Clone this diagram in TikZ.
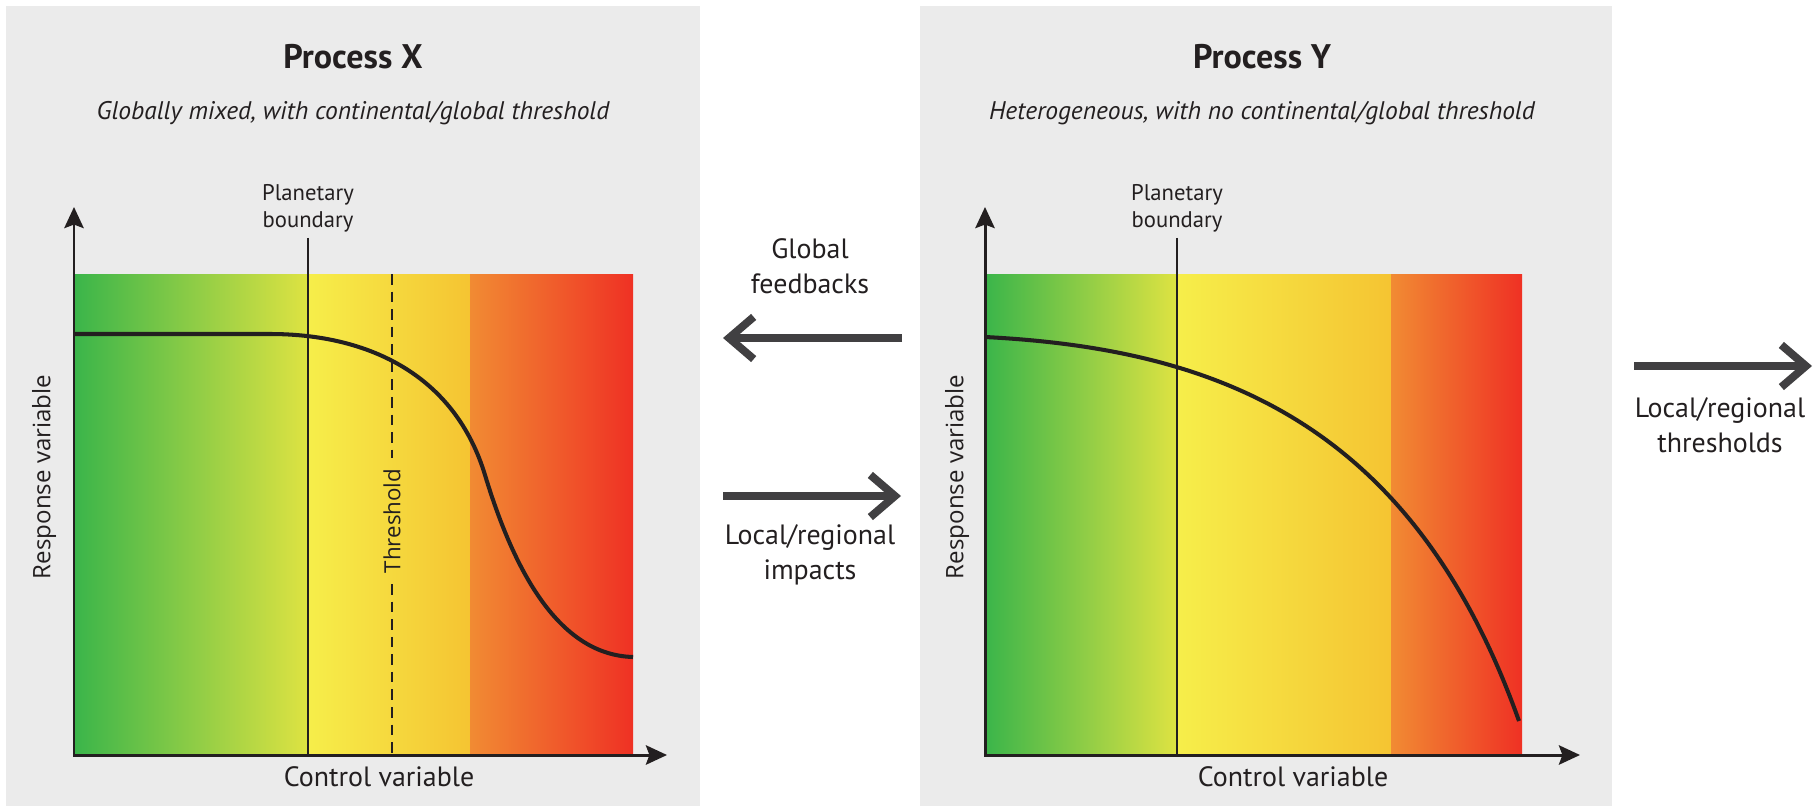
\documentclass[tikz,border=0pt]{standalone}
\usepackage{fontspec}
\setmainfont{PT Sans}
\newfontfamily\widefont{Open Sans}
\usetikzlibrary{arrows.meta}
\definecolor{ink}{HTML}{231F20}
\definecolor{panelgray}{HTML}{EBEBEB}
\definecolor{arrowgray}{HTML}{414042}
\definecolor{gA}{HTML}{3AB54A}
\definecolor{gM}{HTML}{84C944}
\definecolor{gB}{HTML}{DFE342}
\definecolor{yA}{HTML}{F6EE4A}
\definecolor{yM}{HTML}{F5E043}
\definecolor{yB}{HTML}{F5C432}
\definecolor{rA}{HTML}{F18B33}
\definecolor{rM}{HTML}{F2612B}
\definecolor{rB}{HTML}{EF3124}
\begin{document}
\begin{tikzpicture}
    [x=0.02cm,y=-0.02cm,
     heading/.style={font=\bfseries\fontsize{19.4}{23}\selectfont,text=ink},
     subtitle/.style={font=\itshape\fontsize{14.5}{17}\selectfont,text=ink},
     flowtext/.style={font=\fontsize{15.9}{19.8}\selectfont,text=ink,align=center},
     pbtext/.style={font=\fontsize{12.9}{15.3}\selectfont,text=ink,align=center},
     axislabel/.style={font=\widefont\fontsize{13.7}{16}\selectfont,text=ink,rotate=90},
     axes/.style={line width=1.7pt,draw=ink,{Stealth[length=12pt,width=11pt,inset=2pt]}-{Stealth[length=12pt,width=11pt,inset=2pt]}},
     pbline/.style={line width=0.8pt,draw=ink},
     response/.style={line width=2.3pt,draw=ink},
     flow/.style={line width=4.5pt,draw=arrowgray,-{Straight Barb[length=14pt,width=24pt]}}]
\useasboundingbox (0,0) rectangle (1815,808);
\fill [panelgray] (6,6) rectangle (700,806);
\fill [panelgray] (920,6) rectangle (1612,806);
\shade [left color=gA,middle color=gM,right color=gB] (74,274) rectangle (309,755);
\shade [left color=yA,middle color=yM,right color=yB] (309,274) rectangle (470,755);
\shade [left color=rA,middle color=rM,right color=rB] (470,274) rectangle (633,755);
\shade [left color=gA,middle color=gM,right color=gB] (985,274) rectangle (1178,755);
\shade [left color=yA,middle color=yM,right color=yB] (1178,274) rectangle (1391,755);
\shade [left color=rA,middle color=rM,right color=rB] (1391,274) rectangle (1522,755);
\path
    (353,57) node [heading] (titleX) {Process X}
    (353,113) node [subtitle] (subX) {Globally mixed, with continental/global threshold}
    (308,208) node [pbtext] (pbX) {Planetary\\boundary}
    (44,477) node [axislabel] (respX) {Response variable}
    (379,777) node [flowtext] (ctrlX) {Control variable}
    (392,521) node [axislabel,font=\widefont\fontsize{12.7}{15}\selectfont,inner xsep=6pt] (thr) {Threshold}
    (1262,57) node [heading] (titleY) {Process Y}
    (1262,113) node [subtitle] (subY) {Heterogeneous, with no continental/global threshold}
    (1177,208) node [pbtext] (pbY) {Planetary\\boundary}
    (957,477) node [axislabel] (respY) {Response variable}
    (1293,777) node [flowtext] (ctrlY) {Control variable}
    (810,266) node [flowtext] (feedback) {Global\\feedbacks}
    (810,555) node [flowtext] (impacts) {Local/regional\\impacts}
    (1720,425) node [flowtext] (local) {Local/regional\\thresholds};
\coordinate (topX) at (74,274);
\coordinate (oX) at (74,755);
\coordinate (yX) at (74,207);
\coordinate (xX) at (667,755);
\coordinate (oY) at (985,755);
\coordinate (yY) at (985,207);
\coordinate (xY) at (1580,755);
\draw [pbline] (pbX.south) -- (pbX.south |- oX);
\draw [pbline] (pbY.south) -- (pbY.south |- oY);
\draw [pbline,dash pattern=on 6pt off 4pt] (thr.east |- topX) -- (thr.east);
\draw [pbline,dash pattern=on 6pt off 4pt] (thr.west) -- (thr.west |- oX);
\draw [response] (74,334) -- (270,334) .. controls (370,334) and (455,376) .. (485,475)
    .. controls (515,574) and (560,655) .. (633,657);
\draw [response] (985,337) .. controls (1219,349) and (1413,424) .. (1519,721);
\draw [axes] (yX) -- (oX) -- (xX);
\draw [axes] (yY) -- (oY) -- (xY);
\coordinate (fbtail) at (902,338);
\coordinate (fbhead) at (723,338);
\coordinate (imtail) at (723,496);
\coordinate (imhead) at (901,496);
\coordinate (lotail) at (1634,366);
\coordinate (lohead) at (1812,366);
\draw [flow] (fbtail) -- (fbhead);
\draw [flow] (imtail) -- (imhead);
\draw [flow] (lotail) -- (lohead);
\end{tikzpicture}
\end{document}
